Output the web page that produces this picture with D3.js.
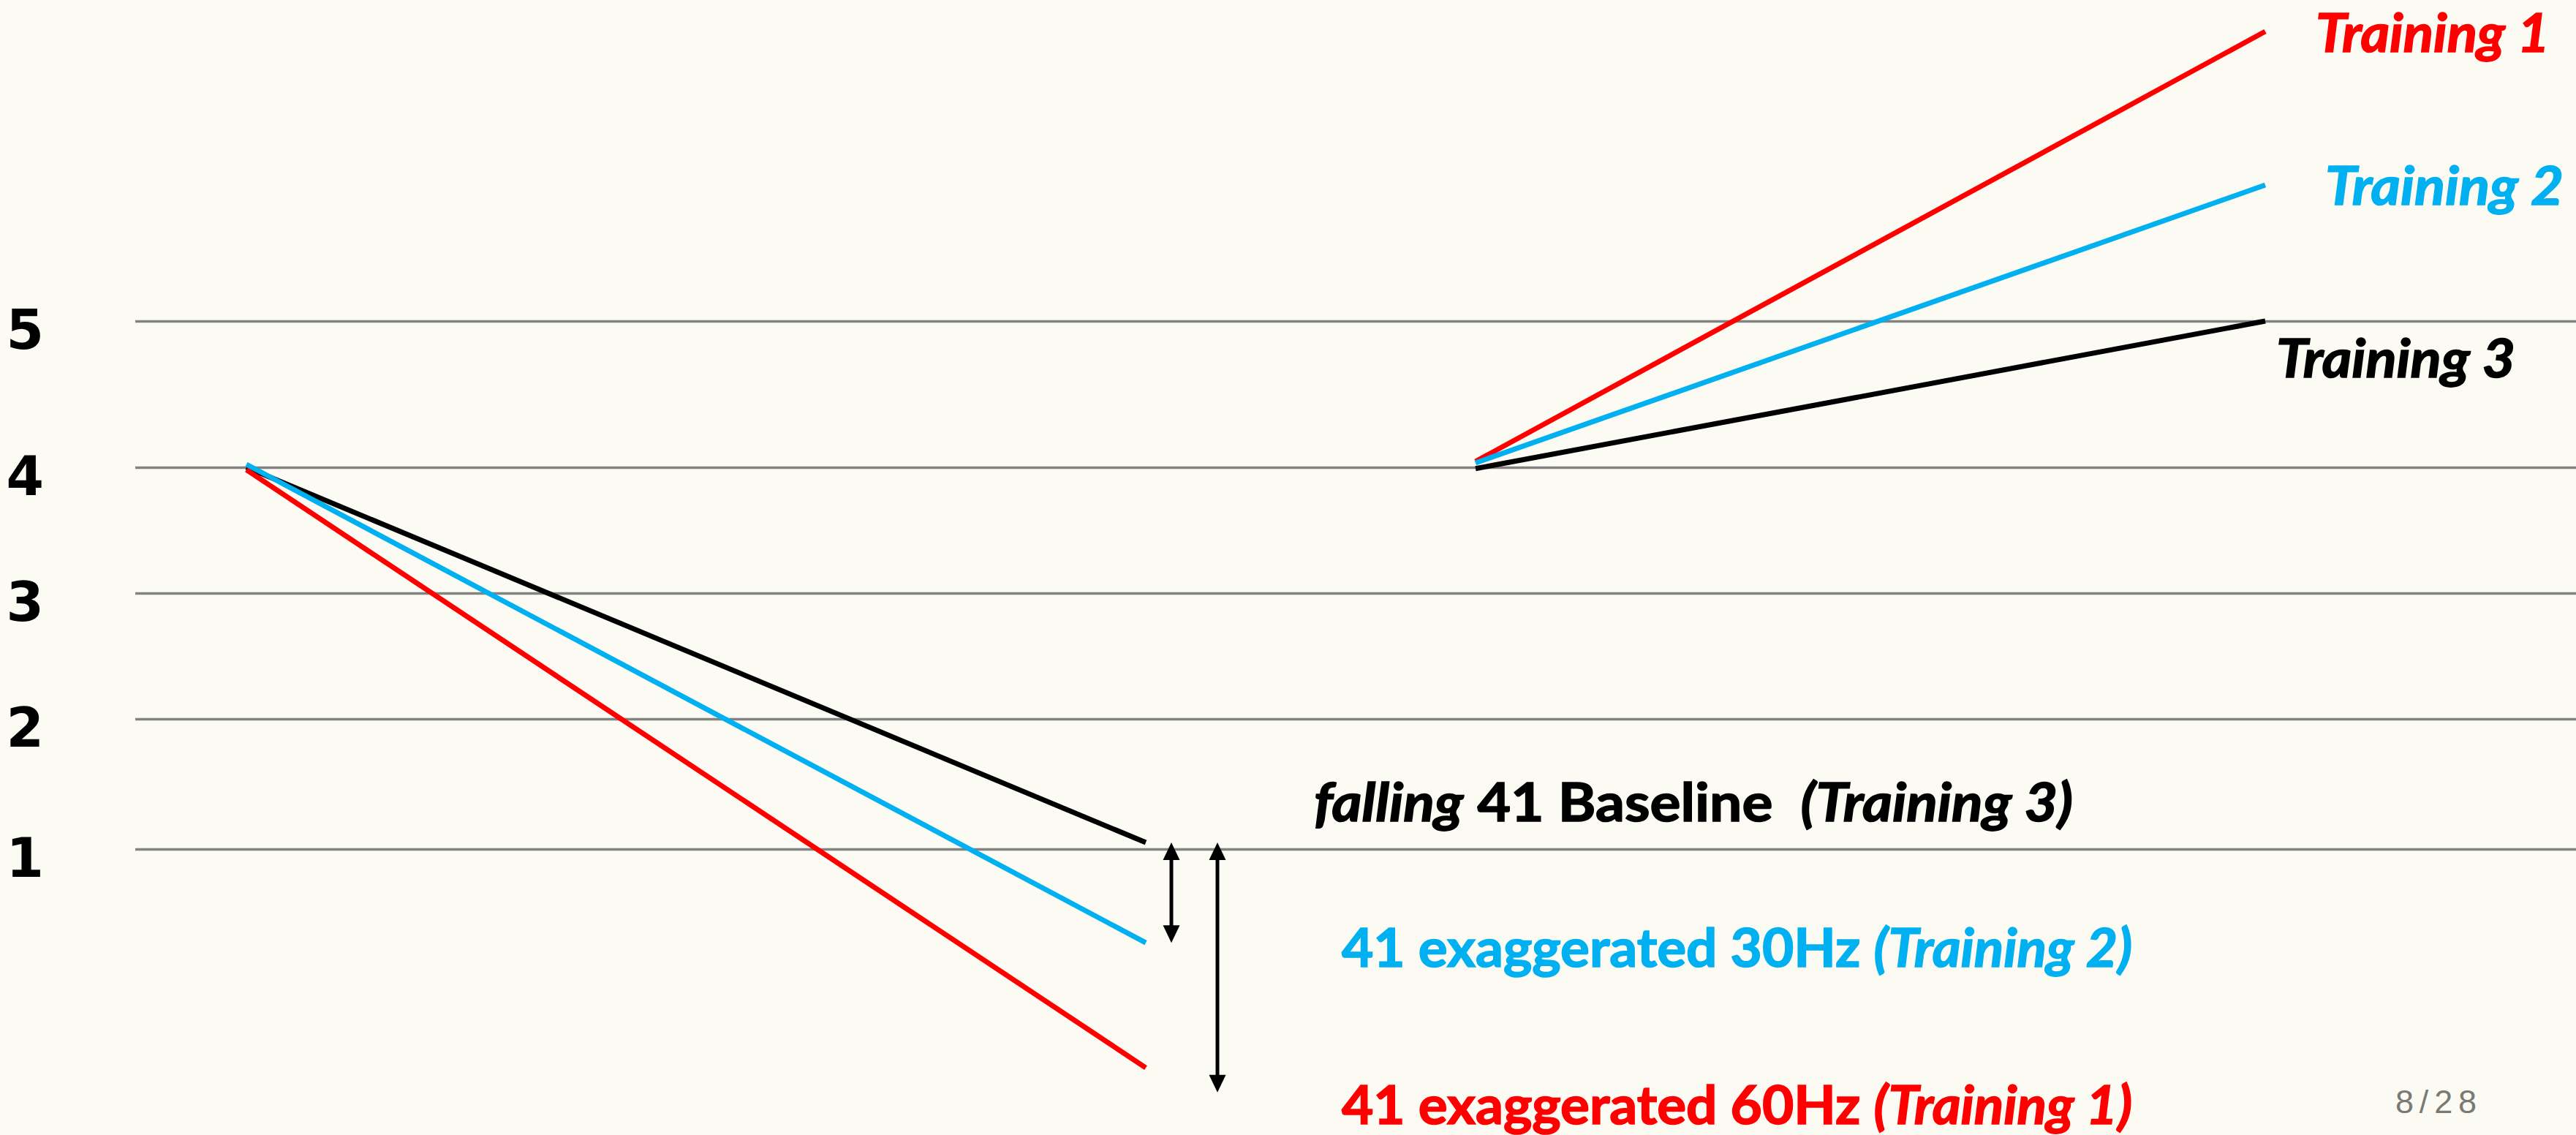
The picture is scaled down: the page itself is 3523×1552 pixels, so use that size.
<!DOCTYPE html>
<html>
<head>
<meta charset="utf-8">
<script src="https://cdn.jsdelivr.net/npm/d3@7/dist/d3.min.js"></script>
<style>
  html, body { margin: 0; padding: 0; background: #FBFBF3; }
  svg { display: block; }
</style>
</head>
<body>
<svg id="chart" width="3523" height="1552"></svg>
<script>
// ---------- DATA ----------
const yTicks = [1, 2, 3, 4, 5];
const seriesNames = ["Training 3", "Training 1", "Training 2"];
const seriesColors = { "Training 1": "#FF0000", "Training 2": "#00B0F0", "Training 3": "#000000" };
// left panel: "falling" (start value, end value)
const fallingStart = { "Training 1": 3.98, "Training 2": 4.02, "Training 3": 4.0 };
const fallingEnd   = { "Training 1": -0.68, "Training 2": 0.28, "Training 3": 1.05 };
// right panel: training progression (start value, end value)
const trainingStart = { "Training 1": 4.04, "Training 2": 4.03, "Training 3": 3.99 };
const trainingEnd   = { "Training 1": 6.98, "Training 2": 5.93, "Training 3": 5.0 };
// difference arrows (from, to)
const arrowSpans = [[1.05, 0.28], [1.05, -0.87]];
const pageLabel = "8/28";

// ---------- SCALES ----------
const W = 3523, H = 1552;
const svg = d3.select("#chart");
svg.append("rect").attr("width", W).attr("height", H).attr("fill", "#FBFBF3");

const y = d3.scaleLinear().domain([1, 2, 3, 4, 5]).range([1161, 983, 811, 639, 439]);
const xLeft = d3.scaleLinear().domain([0, 1]).range([337, 1567]);
const xRight = d3.scaleLinear().domain([0, 1]).range([2018, 3098]);

// ---------- GRID + Y LABELS ----------
const axis = d3.axisLeft(y).tickValues(yTicks).tickFormat(d3.format("d"))
  .tickSize(-(W - 185)).tickPadding(125);
const gAxis = svg.append("g").attr("transform", "translate(185,0)").call(axis);
gAxis.select(".domain").remove();
gAxis.selectAll(".tick line").attr("stroke", "#828282").attr("stroke-width", 3.5);
gAxis.selectAll(".tick text")
  .attr("fill", "#000")
  .attr("font-family", "'DejaVu Sans', Verdana, sans-serif")
  .attr("font-weight", "bold")
  .attr("font-size", 74)
  .attr("dy", "0.5em");

// ---------- LINES ----------
const line = d3.line();
const gLines = svg.append("g");
seriesNames.forEach(name => {
  gLines.append("path")
    .attr("d", line([[xLeft(0), y(fallingStart[name])], [xLeft(1), y(fallingEnd[name])]]))
    .attr("stroke", seriesColors[name]).attr("stroke-width", 7).attr("fill", "none")
    .attr("stroke-linecap", "butt");
  gLines.append("path")
    .attr("d", line([[xRight(0), y(trainingStart[name])], [xRight(1), y(trainingEnd[name])]]))
    .attr("stroke", seriesColors[name]).attr("stroke-width", 7).attr("fill", "none")
    .attr("stroke-linecap", "butt");
});

// ---------- ARROWS ----------
const arrowX = [xLeft(1) + 35, xLeft(1) + 98];
const headL = 24, headW = 11.5;
arrowSpans.forEach((span, i) => {
  const x = arrowX[i];
  const y0 = y(span[0]), y1 = y(span[1]);
  const g = svg.append("g").attr("fill", "#000");
  g.append("line").attr("x1", x).attr("x2", x).attr("y1", y0 + headL - 2).attr("y2", y1 - headL + 2)
    .attr("stroke", "#000").attr("stroke-width", 5);
  g.append("path").attr("d", `M${x},${y0} L${x - headW},${y0 + headL} L${x + headW},${y0 + headL} Z`);
  g.append("path").attr("d", `M${x},${y1} L${x - headW},${y1 - headL} L${x + headW},${y1 - headL} Z`);
});

// ---------- TEXT LABELS ----------
const FONT = "Lato, 'Open Sans', sans-serif";
function label(x, yb, len, color, parts) {
  const t = svg.append("text").attr("x", x).attr("y", yb)
    .attr("font-family", FONT).attr("font-size", 73).attr("font-weight", 700)
    .attr("fill", color).attr("stroke", color).attr("stroke-width", 1.6)
    .attr("textLength", len).attr("lengthAdjust", "spacingAndGlyphs")
    .style("white-space", "pre");
  parts.forEach(p => t.append("tspan").attr("font-style", p[1] ? "italic" : "normal").text(p[0]));
  return t;
}
label(3167, 71, 320, seriesColors["Training 1"], [["Training 1", true]]);
label(3180, 280, 326, seriesColors["Training 2"], [["Training 2", true]]);
label(3113, 516, 327, seriesColors["Training 3"], [["Training 3", true]]);
label(1797, 1123, 1038, seriesColors["Training 3"],
  [["falling", true], [" 41 Baseline  ", false], ["(Training 3)", true]]);
label(1835, 1322, 1081, seriesColors["Training 2"],
  [["41 exaggerated 30Hz ", false], ["(Training 2)", true]]);
label(1835, 1537, 1081, seriesColors["Training 1"],
  [["41 exaggerated 60Hz ", false], ["(Training 1)", true]]);

// ---------- PAGE NUMBER ----------
svg.append("text").attr("x", 3276).attr("y", 1522)
  .attr("font-family", "'Liberation Sans', Arial, sans-serif").attr("font-size", 45)
  .attr("fill", "#7a7a74").attr("textLength", 111).attr("lengthAdjust", "spacing")
  .text(pageLabel);
</script>
</body>
</html>
